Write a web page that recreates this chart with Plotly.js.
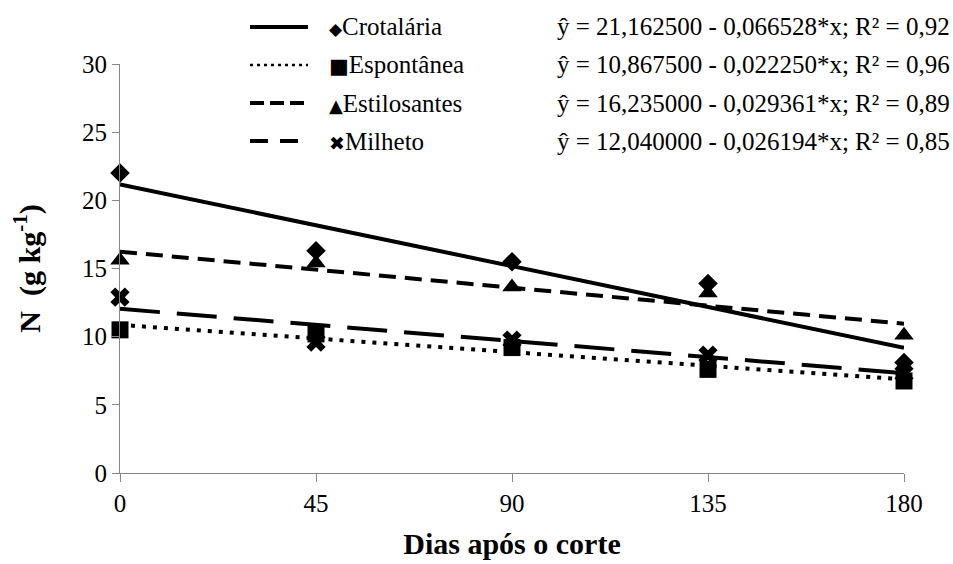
<!DOCTYPE html>
<html>
<head>
<meta charset="utf-8">
<script src="https://cdn.plot.ly/plotly-3.0.1.min.js"></script>
<style>html,body{margin:0;padding:0;background:#fff;}#chart{width:953px;height:564px;}</style>
</head>
<body>
<div id="chart"></div>
<script>
// ---- data ----
var days = [0, 45, 90, 135, 180];
var crotalaria   = [22.0, 16.3, 15.5, 13.9, 8.1];
var espontanea   = [10.5, 10.2, 9.2, 7.6, 6.75];
var estilosantes = [15.6, 15.4, 13.65, 13.2, 10.1];
var milheto      = [12.9, 9.6, 9.75, 8.65, 7.3];

var seriesNames = ["Crotalária", "Espontânea", "Estilosantes", "Milheto"];
var trendX = [0, 180];
var trendCrotalaria   = [21.1625, 9.18745];
var trendEspontanea   = [10.8675, 6.8625];
var trendEstilosantes = [16.235, 10.95002];
var trendMilheto      = [12.04, 7.32508];
var equations = [
  "ŷ = 21,162500 - 0,066528*x; R² = 0,92",
  "ŷ = 10,867500 - 0,022250*x; R² = 0,96",
  "ŷ = 16,235000 - 0,029361*x; R² = 0,89",
  "ŷ = 12,040000 - 0,026194*x; R² = 0,85"
];
var glyphs = ["◆", "■", "▲", "✖"];
var yTicks = [0, 5, 10, 15, 20, 25, 30];
var xTicks = [0, 45, 90, 135, 180];

// ---- styles ----
var FONT = "Liberation Serif";
var dashes = ["solid", "4px,7px", "17px,9px", "40px,17px"];
var legendDashes = ["solid", "3px,4px", "14px,6px", "18px,12px"];
var symbols = ["diamond", "square", "triangle-up", "x"];
var sizes = [15, 17, 17, 17];
var trends = [trendCrotalaria, trendEspontanea, trendEstilosantes, trendMilheto];
var values = [crotalaria, espontanea, estilosantes, milheto];

var traces = [];
for (var i = 0; i < 4; i++) {
  traces.push({
    x: trendX, y: trends[i], mode: "lines", type: "scatter",
    line: {color: "#000", width: 4, dash: dashes[i]},
    showlegend: false, hoverinfo: "skip", cliponaxis: false
  });
}
for (var j = 0; j < 4; j++) {
  traces.push({
    x: days, y: values[j], mode: "markers", type: "scatter", name: seriesNames[j],
    marker: {color: "#000", size: sizes[j], symbol: symbols[j], line: {width: 0}},
    showlegend: false, cliponaxis: false
  });
}

// legend rows (paper coords)
var rowY = [1.0905, 0.9976, 0.9046, 0.8117];
var glyphSizes = [17, 21, 18, 19];
var shapes = [];
var annotations = [];
for (var k = 0; k < 4; k++) {
  shapes.push({
    type: "line", xref: "paper", yref: "paper",
    x0: 0.1658, x1: 0.2398, y0: rowY[k], y1: rowY[k],
    line: {color: "#000", width: (k === 1 ? 2.5 : 4), dash: legendDashes[k]}
  });
  annotations.push({
    xref: "paper", yref: "paper", x: 0.2640, y: rowY[k],
    xanchor: "left", yanchor: "middle", showarrow: false,
    text: '<span style="font-family:DejaVu Sans;font-size:' + glyphSizes[k] + 'px">' + glyphs[k] + '</span>' + seriesNames[k],
    font: {family: FONT, size: 25, color: "#000"}
  });
  annotations.push({
    xref: "paper", yref: "paper", x: 0.5548, y: rowY[k],
    xanchor: "left", yanchor: "middle", showarrow: false,
    text: equations[k],
    font: {family: FONT, size: 25, color: "#000"}
  });
}

var layout = {
  width: 953, height: 564,
  margin: {l: 120, r: 49, t: 64, b: 91},
  paper_bgcolor: "#fff", plot_bgcolor: "#fff",
  showlegend: false,
  font: {family: FONT, size: 25, color: "#000"},
  xaxis: {
    range: [0, 180], tickvals: xTicks, ticktext: xTicks.map(String),
    showgrid: false, zeroline: false, showline: true, linecolor: "#868686", linewidth: 1,
    ticks: "outside", ticklen: 8, tickcolor: "#868686", tickwidth: 1,
    tickfont: {family: FONT, size: 25, color: "#000"},
    title: {text: "<b>Dias após o corte</b>", font: {family: FONT, size: 30, color: "#000"}, standoff: 16},
    automargin: false
  },
  yaxis: {
    range: [0, 30], tickvals: yTicks, ticktext: yTicks.map(String),
    showgrid: false, zeroline: false, showline: true, linecolor: "#868686", linewidth: 1,
    ticks: "outside", ticklen: 7, tickcolor: "#868686", tickwidth: 1,
    tickfont: {family: FONT, size: 25, color: "#000"},
    title: {text: "<b>N  (g kg<sup>-1</sup>)</b>", font: {family: FONT, size: 30, color: "#000"}, standoff: 32},
    automargin: false
  },
  shapes: shapes,
  annotations: annotations
};

Plotly.newPlot("chart", traces, layout, {displayModeBar: false, staticPlot: true});
</script>
</body>
</html>
